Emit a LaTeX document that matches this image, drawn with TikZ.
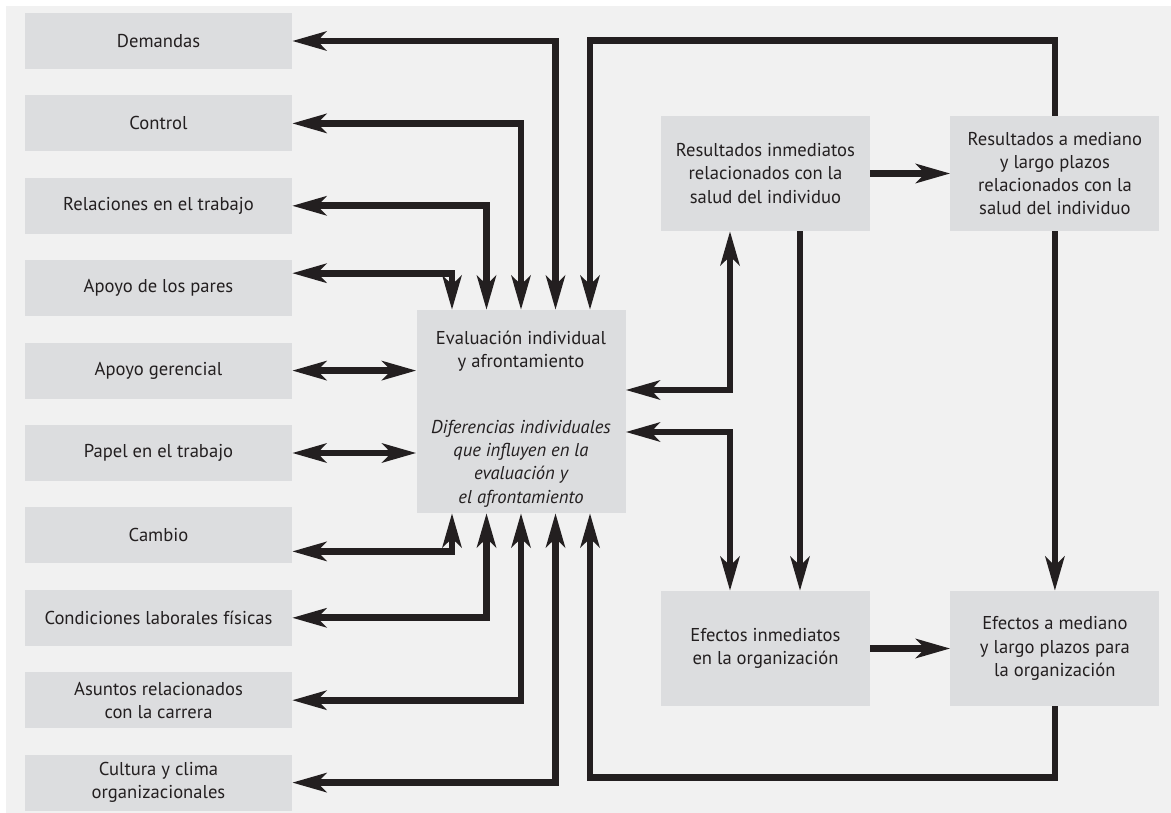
\documentclass[tikz,border=0pt]{standalone}
\usepackage{fontspec}
\setmainfont{PT Sans}
\usetikzlibrary{arrows.meta,positioning}
\definecolor{fondo}{HTML}{F1F1F1}
\definecolor{griscaja}{HTML}{DCDDDF}
\definecolor{tinta}{HTML}{231F20}
\tikzset{
	caja/.style={fill=griscaja, draw=none, inner sep=0pt, align=center, text=tinta,
		font=\fontsize{18.6}{23.3}\selectfont},
	izq/.style={caja, minimum width=267pt, minimum height=56pt},
	der/.style={caja, minimum width=209pt, minimum height=115pt},
	texto/.style={inner sep=0pt, align=center, text=tinta, font=\fontsize{18.6}{23.3}\selectfont},
	flecha/.style={draw=tinta, line width=6.8pt},
	>={Stealth[length=34pt, width=19pt, inset=9pt]}
}

\begin{document}
\begin{tikzpicture}[x=1pt, y=-1pt, node distance=26pt]

	\useasboundingbox (0,0) rectangle (1171,813);
	\fill[fondo] (6,6) rectangle (1171,813);

	% factores del trabajo
	\node[izq] (demandas) at (158.5,41) {Demandas};
	\node[izq, below=of demandas] (control) {Control};
	\node[izq, below=of control] (relaciones) {Relaciones en el trabajo};
	\node[izq, below=of relaciones] (pares) {Apoyo de los pares};
	\node[izq, below=of pares] (gerencial) {Apoyo gerencial};
	\node[izq, below=of gerencial] (papel) {Papel en el trabajo};
	\node[izq, below=of papel] (cambio) {Cambio};
	\node[izq, below=of cambio] (condiciones) {Condiciones laborales físicas};
	\node[izq, below=of condiciones] (asuntos) {Asuntos relacionados\\con la carrera};
	\node[izq, below=of asuntos] (cultura) {Cultura y clima\\organizacionales};

	% caja central
	\node[caja, minimum width=209pt, minimum height=203pt] (eval) at (521,411.5) {};
	\node[texto, anchor=north] (evaltit) at ([yshift=-21pt]eval.north)
		{Evaluación individual\\y afrontamiento};
	\node[texto, anchor=north, font=\fontsize{18.6}{23.3}\selectfont\itshape] (evaldif) at ([yshift=-110pt]eval.north)
		{Diferencias individuales\\que influyen en la\\evaluación y\\el afrontamiento};

	% resultados
	\node[der] (resinm) at (765.5,173.5) {Resultados inmediatos\\relacionados con la\\salud del individuo};
	\node[der, right=80pt of resinm] (resmed) {Resultados a mediano\\y largo plazos\\relacionados con la\\salud del individuo};
	\node[der] (efinm) at (765.5,648.5) {Efectos inmediatos\\en la organización};
	\node[der, right=80pt of efinm] (efmed) {Efectos a mediano\\y largo plazos para\\la organización};

	% flechas de arriba
	\draw[flecha, <->] (demandas.east) -| ([xshift=34.5pt]eval.north);
	\draw[flecha, <->] (control.east) -| ([xshift=0pt]eval.north);
	\draw[flecha, <->] (relaciones.east) -| ([xshift=-34.5pt]eval.north);
	\draw[flecha, <->] ([yshift=15pt]pares.east) -| ([xshift=-69pt]eval.north);
	\draw[flecha, <->] (gerencial.east) -- (gerencial.east -| eval.west);
	\draw[flecha, <->] (papel.east) -- (papel.east -| eval.west);

	% flechas de abajo
	\draw[flecha, <->] ([yshift=-16pt]cambio.east) -| ([xshift=-69pt]eval.south);
	\draw[flecha, <->] (condiciones.east) -| ([xshift=-34.5pt]eval.south);
	\draw[flecha, <->] (asuntos.east) -| ([xshift=0pt]eval.south);
	\draw[flecha, <->] (cultura.east) -| ([xshift=34.5pt]eval.south);

	% lazos de retorno
	\draw[flecha, ->] (resmed.north) -- ++(0,-75) -| ([xshift=69pt]eval.north);
	\draw[flecha, ->] (efmed.south) -- ++(0,71) -| ([xshift=69pt]eval.south);

	% lado derecho
	\draw[flecha, <->] ([yshift=21.5pt]eval.east) -| ([xshift=-35.5pt]resinm.south);
	\draw[flecha, <->] ([yshift=-20.5pt]eval.east) -| ([xshift=-35.5pt]efinm.north);
	\draw[flecha, ->] ([xshift=34.5pt]resinm.south) -- ([xshift=34.5pt]efinm.north);
	\draw[flecha, ->] (resinm.east) -- (resmed.west);
	\draw[flecha, ->] (resmed.south) -- (efmed.north);
	\draw[flecha, ->] (efinm.east) -- (efmed.west);

\end{tikzpicture}
\end{document}
